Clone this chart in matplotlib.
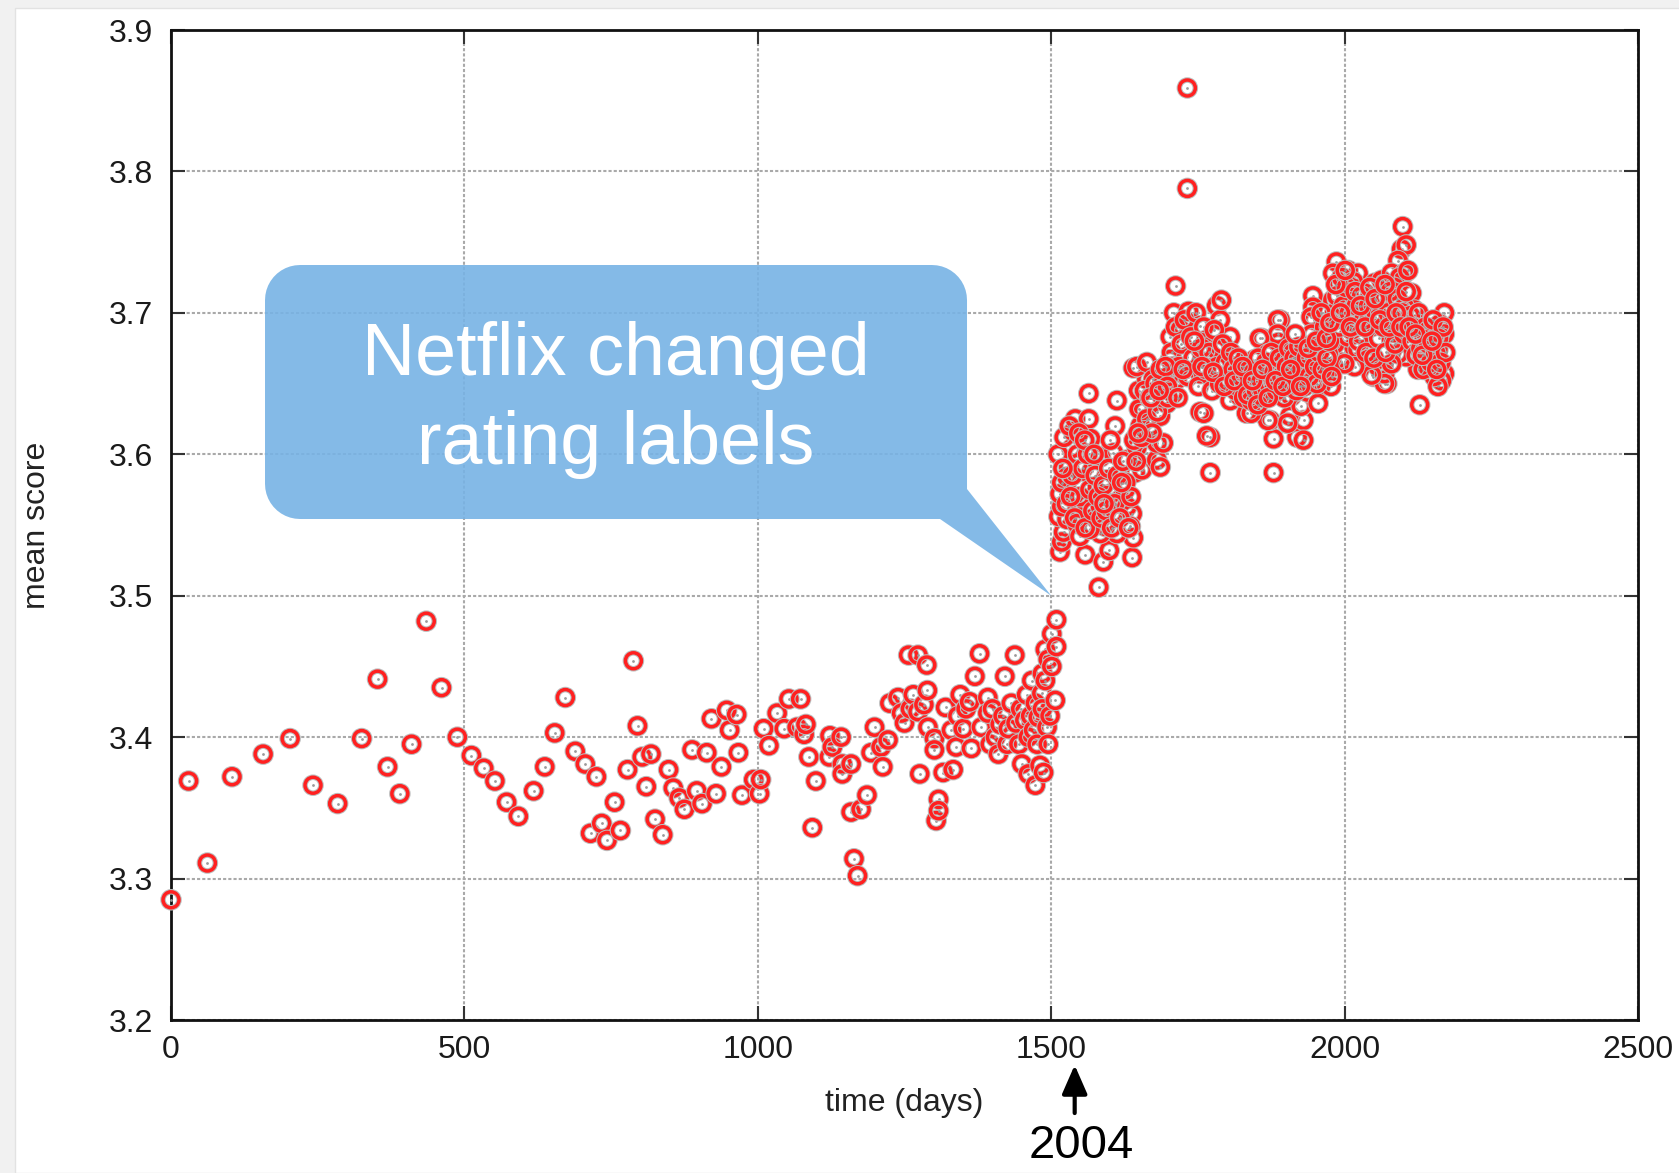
import numpy as np
import matplotlib
matplotlib.use("Agg")
import matplotlib.pyplot as plt
import matplotlib.patheffects as pe
import matplotlib.transforms as mtrans
from matplotlib.path import Path
from matplotlib.patches import PathPatch, Rectangle

plt.rcParams['font.family'] = ['Liberation Sans', 'DejaVu Sans']

# mean score per day
# sparse early period
days_early = [0, 30, 62, 104, 157, 203, 242, 284, 325, 352, 369, 390, 410, 435, 461, 488,
              512, 533, 552, 572, 592, 618, 637, 654, 672, 689, 706, 715, 725, 734, 743, 756,
              766, 778, 788, 795, 803, 810, 818, 825, 838, 848, 856, 866, 875, 888, 896, 905,
              913, 921, 929, 938, 947, 952, 964, 967, 973, 993, 1003, 1005, 1010, 1019, 1033,
              1045, 1053, 1067, 1073, 1079, 1082, 1087, 1093, 1099, 1122, 1123, 1127, 1142,
              1144, 1144, 1159, 1159, 1164, 1170, 1176, 1186, 1193, 1199]
score_early = [3.285, 3.369, 3.311, 3.372, 3.388, 3.399, 3.366, 3.353, 3.399, 3.441, 3.379,
               3.360, 3.395, 3.482, 3.435, 3.400, 3.387, 3.378, 3.369, 3.354, 3.344, 3.362,
               3.379, 3.403, 3.428, 3.390, 3.381, 3.332, 3.372, 3.339, 3.327, 3.354, 3.334,
               3.377, 3.454, 3.408, 3.386, 3.365, 3.388, 3.342, 3.331, 3.377, 3.364, 3.357,
               3.349, 3.391, 3.362, 3.353, 3.389, 3.413, 3.360, 3.379, 3.419, 3.405, 3.416,
               3.389, 3.359, 3.370, 3.360, 3.370, 3.406, 3.394, 3.417, 3.406, 3.427, 3.407,
               3.427, 3.402, 3.409, 3.386, 3.336, 3.369, 3.386, 3.401, 3.393, 3.400, 3.381,
               3.374, 3.381, 3.347, 3.314, 3.302, 3.349, 3.359, 3.389, 3.407]

# build-up before the label change
days_mid = [1210, 1213, 1222, 1225, 1239, 1245, 1250, 1257, 1260, 1265, 1273, 1273, 1276,
            1283, 1288, 1289, 1290, 1301, 1301, 1304, 1308, 1308, 1316, 1320, 1330, 1333,
            1338, 1341, 1345, 1350, 1355, 1361, 1364, 1370, 1378, 1381, 1392, 1392, 1396,
            1400, 1405, 1410, 1413, 1418, 1421, 1425, 1427, 1432, 1438, 1440, 1445, 1448,
            1450, 1455, 1458, 1461, 1461, 1465, 1467, 1470, 1473, 1473, 1476, 1478, 1481,
            1484, 1485, 1485, 1487, 1490, 1490, 1493, 1495, 1495, 1498, 1501, 1501, 1507,
            1509, 1509]
score_mid = [3.393, 3.379, 3.398, 3.424, 3.428, 3.417, 3.410, 3.458, 3.420, 3.430, 3.458,
             3.418, 3.374, 3.423, 3.451, 3.433, 3.407, 3.399, 3.391, 3.341, 3.356, 3.348,
             3.375, 3.421, 3.405, 3.377, 3.393, 3.415, 3.430, 3.406, 3.420, 3.425, 3.392,
             3.443, 3.459, 3.407, 3.428, 3.417, 3.395, 3.420, 3.400, 3.388, 3.409, 3.415,
             3.443, 3.395, 3.406, 3.424, 3.458, 3.410, 3.395, 3.420, 3.381, 3.412, 3.430,
             3.400, 3.374, 3.415, 3.440, 3.405, 3.366, 3.424, 3.395, 3.414, 3.380, 3.431,
             3.420, 3.445, 3.375, 3.462, 3.440, 3.407, 3.395, 3.455, 3.415, 3.473, 3.450,
             3.426, 3.483, 3.464]

# after the label change
days_late = [1581, 1515, 1558, 1589, 1599, 1638, 1640, 1518, 1521, 1513, 1527, 1518, 1515,
             1530, 1527, 1535, 1538, 1541, 1564, 1564, 1567, 1569, 1552, 1561, 1578, 1592,
             1606, 1612, 1584, 1544, 1549, 1566, 1584, 1601, 1595, 1618, 1629, 1638, 1635,
             1626, 1643, 1655, 1584, 1606, 1609, 1601, 1612, 1629, 1646, 1663, 1680, 1686,
             1680, 1652, 1669, 1657, 1649, 1663, 1640, 1691, 1686, 1697, 1691, 1708, 1708,
             1731, 1754, 1771, 1771, 1805, 1833, 1833, 1868, 1879, 1879, 1873, 1902, 1919,
             1646, 1663, 1674, 1709, 1734, 1703, 1720, 1754, 1782, 1788, 1765, 1731, 1703,
             1714, 1754, 1782, 1805, 1811, 1822, 1760, 1859, 1890, 1887, 1868, 1856, 1879,
             1902, 1907, 1930, 1930, 1913, 1930, 1947, 1964, 1947, 1959, 1981, 1981, 1993,
             2010, 2027, 2038, 2066, 2072, 2049, 2016, 2084, 1765,
             1732, 1732, 1712, 1790,
             2099, 2097, 2105, 2091, 1986, 1980, 1989, 2006, 2023, 2051, 2063, 2080, 2102,
             2085, 2114, 2119, 1946, 1946, 1980, 2006, 2034, 2068, 2102, 1983, 2017, 2051,
             2085, 2125, 2170, 2162, 2170, 2153, 2136, 2142, 2159, 2170, 2165, 2153, 2159,
             2142, 2125, 2105, 2119, 2128, 1977, 1983, 2006, 2023, 2040, 2057, 2068, 2068,
             2046, 2017, 2000, 2028, 2080, 2091, 2080, 1943, 1949, 1972, 1966, 1949, 1977,
             1926, 1892, 1886, 1886, 1855, 1869, 1847, 1864, 1892, 1920, 1909, 1926, 1903,
             1869, 1937, 1955, 1847, 1841,
             1700, 1705, 1712, 1718, 1722, 1727, 1733, 1738, 1742, 1747, 1751, 1756, 1760,
             1764, 1769, 1774, 1778, 1783, 1787, 1792, 1797, 1801, 1806,
             1810, 1815, 1819, 1824, 1828, 1832, 1837, 1841, 1845, 1850, 1853, 1858, 1862,
             1866, 1871, 1875, 1880, 1884, 1889, 1893, 1897, 1901, 1905,
             1910, 1914, 1918, 1922, 1927, 1931, 1935, 1940, 1944, 1949, 1953, 1957, 1962,
             1966, 1970, 1974, 1978, 1983, 1987, 1991, 1995, 1998,
             2003, 2008, 2012, 2015, 2020, 2024, 2029, 2033, 2037, 2041, 2045, 2050, 2054,
             2058, 2062, 2066, 2070, 2074, 2078, 2082, 2086, 2090, 2094, 2098, 2101, 2105,
             2108, 2112,
             2115, 2118, 2122, 2126, 2130, 2134, 2138, 2143, 2147, 2151, 2155, 2160, 2164,
             2168, 2172,
             1512, 1518, 1522, 1526, 1531, 1536, 1540, 1545, 1549, 1554, 1558, 1562, 1566,
             1571, 1575, 1580, 1585, 1589, 1594, 1598, 1603, 1608, 1613, 1617, 1622, 1627,
             1632, 1636, 1641, 1645, 1650, 1654, 1659, 1663, 1668, 1672, 1677, 1681, 1686,
             1690, 1695, 1699,
             1698, 1716, 1725, 1744, 1757, 1776, 1795, 1812, 1826, 1835, 1843, 1852, 1860,
             1870, 1882, 1895, 1908, 1916, 1925, 1938, 1952, 1960, 1969, 1975, 1985, 1993,
             2001, 2010, 2018, 2027, 2035, 2043, 2052, 2060, 2069, 2076, 2088, 2096, 2110,
             2121, 2133, 2149, 2157, 1520, 1533, 1547, 1557, 1573, 1590, 1620, 1648, 1670,
             1684]
score_late = [3.506, 3.531, 3.529, 3.524, 3.532, 3.527, 3.541, 3.538, 3.545, 3.556, 3.554,
              3.563, 3.572, 3.591, 3.584, 3.604, 3.616, 3.625, 3.625, 3.643, 3.611, 3.588,
              3.577, 3.565, 3.554, 3.549, 3.558, 3.544, 3.544, 3.551, 3.542, 3.547, 3.563,
              3.572, 3.582, 3.568, 3.563, 3.558, 3.549, 3.575, 3.587, 3.589, 3.598, 3.601,
              3.620, 3.610, 3.638, 3.596, 3.605, 3.601, 3.596, 3.591, 3.608, 3.620, 3.620,
              3.631, 3.645, 3.653, 3.661, 3.608, 3.627, 3.636, 3.653, 3.643, 3.662, 3.655,
              3.630, 3.612, 3.587, 3.638, 3.629, 3.653, 3.641, 3.611, 3.587, 3.624, 3.622,
              3.612,
              3.662, 3.665, 3.653, 3.700, 3.701, 3.683, 3.688, 3.691, 3.705, 3.695, 3.676,
              3.669, 3.667, 3.653, 3.657, 3.674, 3.683, 3.669, 3.641, 3.629, 3.682, 3.695,
              3.679, 3.662, 3.648, 3.643, 3.648, 3.627, 3.624, 3.610, 3.672, 3.676, 3.695,
              3.686, 3.662, 3.648, 3.662, 3.679, 3.665, 3.705, 3.691, 3.667, 3.662, 3.650,
              3.655, 3.676, 3.686, 3.613,
              3.859, 3.788, 3.719, 3.709,
              3.761, 3.745, 3.748, 3.737, 3.736, 3.728, 3.721, 3.730, 3.728, 3.721, 3.723,
              3.728, 3.728, 3.718, 3.714, 3.702, 3.712, 3.704, 3.709, 3.709, 3.714, 3.711,
              3.704, 3.695, 3.695, 3.697, 3.695, 3.692, 3.700, 3.692, 3.685, 3.685, 3.681,
              3.671, 3.674, 3.657, 3.652, 3.655, 3.648, 3.662, 3.660, 3.669, 3.671, 3.635,
              3.667, 3.678, 3.683, 3.674, 3.667, 3.662, 3.657, 3.650, 3.656, 3.662, 3.664,
              3.685, 3.681, 3.671, 3.664, 3.697, 3.676, 3.671, 3.657, 3.652, 3.648, 3.664,
              3.664, 3.695, 3.685, 3.682, 3.671, 3.667, 3.655, 3.650, 3.655, 3.641, 3.634,
              3.622, 3.624, 3.644, 3.636, 3.643, 3.629,
              3.655, 3.672, 3.690, 3.662, 3.678, 3.695, 3.655, 3.683, 3.668, 3.700, 3.648,
              3.675, 3.690, 3.660, 3.672, 3.645, 3.688, 3.662, 3.650, 3.678, 3.665, 3.652,
              3.672,
              3.660, 3.645, 3.668, 3.655, 3.640, 3.662, 3.648, 3.638, 3.658, 3.645, 3.668,
              3.652, 3.640, 3.665, 3.650, 3.672, 3.658, 3.645, 3.668, 3.655, 3.640, 3.662,
              3.675,
              3.652, 3.668, 3.645, 3.676, 3.660, 3.648, 3.668, 3.655, 3.685, 3.662, 3.650,
              3.672, 3.660, 3.690, 3.668, 3.680, 3.655, 3.700, 3.712, 3.690, 3.725, 3.705,
              3.718, 3.700, 3.688, 3.722, 3.705, 3.680, 3.712, 3.695, 3.672, 3.705, 3.690,
              3.668, 3.700, 3.682, 3.710, 3.690, 3.672, 3.700, 3.715, 3.695, 3.678, 3.710,
              3.725, 3.700, 3.685, 3.715, 3.730, 3.698,
              3.680, 3.690, 3.670, 3.700, 3.675, 3.660, 3.690, 3.678, 3.665, 3.695, 3.672,
              3.682, 3.665, 3.690, 3.672,
              3.600, 3.580, 3.612, 3.565, 3.620, 3.585, 3.555, 3.600, 3.570, 3.590, 3.548,
              3.600, 3.575, 3.560, 3.585, 3.570, 3.555, 3.578, 3.560, 3.590, 3.548, 3.565,
              3.585, 3.555, 3.595, 3.580, 3.548, 3.570, 3.610, 3.595, 3.632, 3.612, 3.645,
              3.625, 3.640, 3.615, 3.650, 3.630, 3.660, 3.640, 3.662, 3.640,
              3.648, 3.640, 3.660, 3.680, 3.662, 3.658, 3.648, 3.652, 3.662, 3.642, 3.652,
              3.635, 3.660, 3.640, 3.652, 3.648, 3.660, 3.685, 3.648, 3.675, 3.680, 3.700,
              3.682, 3.693, 3.720, 3.700, 3.730, 3.690, 3.715, 3.705, 3.690, 3.718, 3.710,
              3.695, 3.720, 3.690, 3.700, 3.690, 3.690, 3.685, 3.670, 3.680, 3.660, 3.590,
              3.570, 3.615, 3.610, 3.600, 3.565, 3.580, 3.615, 3.640, 3.645]

x_ticks = [0, 500, 1000, 1500, 2000, 2500]
y_ticks = [3.2, 3.3, 3.4, 3.5, 3.6, 3.7, 3.8, 3.9]

days = days_early + days_mid + days_late
score = score_early + score_mid + score_late

fig = plt.figure(figsize=(16.79, 11.73), dpi=100, facecolor='#f1f1f1')
# white slide area with a faint grey margin at the top and left
fig.add_artist(Rectangle((15 / 1679, 0), 1, 1 - 8 / 1173, transform=fig.transFigure,
                         facecolor='white', edgecolor='#e2e2e2', lw=1, zorder=-5))

ax = fig.add_axes([0.10185, 0.13043, 0.87374, 0.84399])
ax.set_xlim(0, 2500)
ax.set_ylim(3.2, 3.9)
ax.set_xticks(x_ticks)
ax.set_yticks(y_ticks)
ax.set_yticklabels([f'{v:.1f}' for v in y_ticks])

ax.grid(True, color='#a9a9a9', linestyle=(0, (1.5, 1.0)), linewidth=1.5, zorder=0)
ax.set_axisbelow(True)
for sp in ax.spines.values():
    sp.set_linewidth(2.0)
    sp.set_color('#111111')
ax.tick_params(direction='in', length=10, width=1.5, color='#333333',
               top=True, right=True, labelsize=23, labelcolor='#1a1a1a')
ax.tick_params(axis='x', pad=11)
ax.tick_params(axis='y', pad=13)

# each point drawn on its own so the grey halo overlaps the earlier points
halo = [pe.Stroke(linewidth=4.0, foreground='#bdbdbd'), pe.Normal()]
for d, s in zip(days, score):
    ax.plot([d], [s], ls='none', marker='o', ms=11.5, mfc='none', mec='#ff2020', mew=2.5,
            path_effects=halo, clip_on=False, zorder=4)
    ax.plot([d], [s], ls='none', marker='o', ms=2.0, mfc='#9a9a9a', mec='none',
            clip_on=False, zorder=4)

ax.set_xlabel('time (days)', fontsize=23, color='#222222')
ax.xaxis.set_label_coords(0.5, -0.0838)
ax.xaxis.label.set_va('center')
ax.set_ylabel('mean score', fontsize=23, color='#222222')
ax.yaxis.set_label_coords(-0.0913, 0.5)
ax.yaxis.label.set_va('center')

# speech-bubble callout, built in axes pixels
W, H = 1467.0, 990.0
L, R, B, T, r = 94, 796, 501, 755, 35
tip_x, tip_y = 0.6 * W, (3.5 - 3.2) / 0.7 * H
verts = [(L + r, B), (769, B), (tip_x, tip_y), (R, 531), (R, T - r)]
for a in np.linspace(0, np.pi / 2, 12)[1:]:
    verts.append((R - r + r * np.cos(a), T - r + r * np.sin(a)))
verts.append((L + r, T))
for a in np.linspace(np.pi / 2, np.pi, 12)[1:]:
    verts.append((L + r + r * np.cos(a), T - r + r * np.sin(a)))
verts.append((L, B + r))
for a in np.linspace(np.pi, 1.5 * np.pi, 12)[1:]:
    verts.append((L + r + r * np.cos(a), B + r + r * np.sin(a)))
bubble = Path(verts + [verts[0]], closed=True)
trans = mtrans.Affine2D().scale(1 / W, 1 / H) + ax.transAxes
ax.add_patch(PathPatch(bubble, transform=trans, facecolor='#77b3e5', edgecolor='none',
                       alpha=0.9, zorder=3, clip_on=False))
ax.text(445 / W, 620 / H, 'Netflix changed\nrating labels', transform=ax.transAxes,
        ha='center', va='center', fontsize=53, color='white', linespacing=1.36, zorder=6)

# arrow marking the year under the axis
ax.annotate('', xy=(1540, -0.0455), xycoords=('data', 'axes fraction'),
            xytext=(1540, -0.094), textcoords=('data', 'axes fraction'),
            arrowprops=dict(arrowstyle='-|>,head_length=0.8,head_width=0.35', color='black',
                            lw=3, mutation_scale=22, shrinkA=0, shrinkB=0),
            annotation_clip=False)
ax.text(1551, -0.127, '2004', transform=ax.get_xaxis_transform(), ha='center',
        va='center', fontsize=34, color='black')

fig.savefig('out.png', dpi=100, facecolor=fig.get_facecolor())
